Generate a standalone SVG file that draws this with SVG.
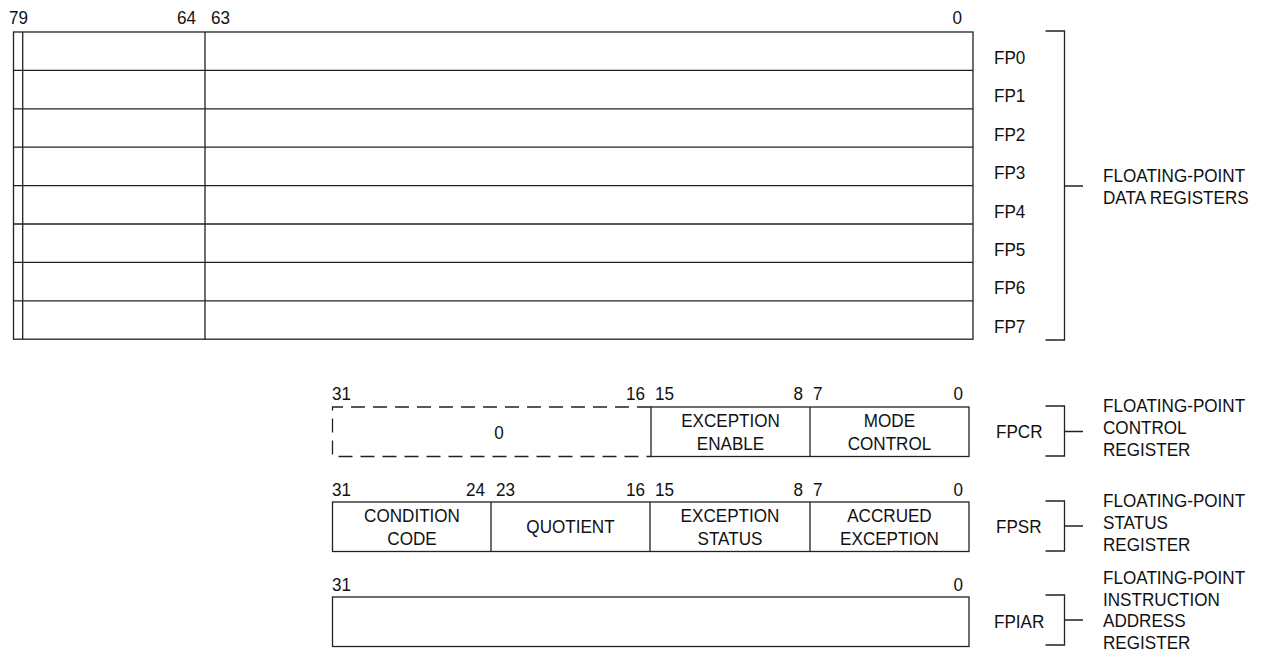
<svg xmlns="http://www.w3.org/2000/svg" width="1263" height="670" viewBox="0 0 1263 670">
<style>
text{font-family:"Liberation Sans",Arial,sans-serif;font-size:19px;fill:#111}
.m{text-anchor:middle}
.e{text-anchor:end}
.ln{fill:none;stroke:#222;stroke-width:1.3}
.dash{fill:none;stroke:#222;stroke-width:1.3;stroke-dasharray:14 8}
</style>
<rect width="1263" height="670" fill="#fff"/>
<g id="fp-data">
<rect class="ln" x="13.5" y="32" width="959.5" height="307.2"/>
<line class="ln" x1="22.7" y1="32" x2="22.7" y2="339.2"/>
<line class="ln" x1="205" y1="32" x2="205" y2="339.2"/>
<path class="ln" d="M13.5 70.4H973M13.5 108.8H973M13.5 147.2H973M13.5 185.6H973M13.5 224H973M13.5 262.4H973M13.5 300.8H973"/>
<g transform="scale(0.9,1)">
<text x="10" y="24">79</text>
<text class="e" x="217.8" y="24">64</text>
<text x="234.4" y="24">63</text>
<text class="e" x="1068.9" y="24">0</text>
<text x="1104.4" y="64">FP0</text>
<text x="1104.4" y="102.4">FP1</text>
<text x="1104.4" y="140.8">FP2</text>
<text x="1104.4" y="179.2">FP3</text>
<text x="1104.4" y="217.6">FP4</text>
<text x="1104.4" y="256">FP5</text>
<text x="1104.4" y="294.4">FP6</text>
<text x="1104.4" y="332.8">FP7</text>
<text x="1225.6" y="182">FLOATING-POINT</text>
<text x="1225.6" y="204">DATA REGISTERS</text>
</g>
</g>
<g id="fpcr">
<path class="dash" d="M651 407H332.5V456.5H651"/>
<rect class="ln" x="651" y="407" width="318" height="49.5"/>
<line class="ln" x1="810" y1="407" x2="810" y2="456.5"/>
<g transform="scale(0.9,1)">
<text x="368.9" y="400">31</text>
<text class="e" x="716.7" y="400">16</text>
<text x="727.8" y="400">15</text>
<text class="e" x="892.2" y="400">8</text>
<text x="903.3" y="400">7</text>
<text class="e" x="1070" y="400">0</text>
<text class="m" x="554.4" y="439">0</text>
<text class="m" x="811.7" y="427">EXCEPTION</text>
<text class="m" x="811.7" y="450">ENABLE</text>
<text class="m" x="988.3" y="427">MODE</text>
<text class="m" x="988.3" y="450">CONTROL</text>
<text x="1106.7" y="438">FPCR</text>
<text x="1225.6" y="412">FLOATING-POINT</text>
<text x="1225.6" y="434">CONTROL</text>
<text x="1225.6" y="456">REGISTER</text>
</g>
</g>
<g id="fpsr">
<rect class="ln" x="332.5" y="502" width="636.5" height="49.5"/>
<path class="ln" d="M491 502V551.5M650 502V551.5M810 502V551.5"/>
<g transform="scale(0.9,1)">
<text x="368.9" y="496">31</text>
<text class="e" x="538.9" y="496">24</text>
<text x="551.1" y="496">23</text>
<text class="e" x="716.7" y="496">16</text>
<text x="727.8" y="496">15</text>
<text class="e" x="892.2" y="496">8</text>
<text x="903.3" y="496">7</text>
<text class="e" x="1070" y="496">0</text>
<text class="m" x="457.8" y="522">CONDITION</text>
<text class="m" x="457.8" y="545">CODE</text>
<text class="m" x="633.9" y="533">QUOTIENT</text>
<text class="m" x="811.1" y="522">EXCEPTION</text>
<text class="m" x="811.1" y="545">STATUS</text>
<text class="m" x="988.3" y="522">ACCRUED</text>
<text class="m" x="988.3" y="545">EXCEPTION</text>
<text x="1106.7" y="533">FPSR</text>
<text x="1225.6" y="507">FLOATING-POINT</text>
<text x="1225.6" y="529">STATUS</text>
<text x="1225.6" y="551">REGISTER</text>
</g>
</g>
<g id="fpiar">
<rect class="ln" x="332.5" y="597" width="636.5" height="49.5"/>
<g transform="scale(0.9,1)">
<text x="368.9" y="591">31</text>
<text class="e" x="1070" y="591">0</text>
<text x="1104.4" y="628">FPIAR</text>
<text x="1225.6" y="584">FLOATING-POINT</text>
<text x="1225.6" y="606">INSTRUCTION</text>
<text x="1225.6" y="627">ADDRESS</text>
<text x="1225.6" y="649">REGISTER</text>
</g>
</g>
<g id="connectors">
<path class="ln" d="M1045.5 31H1064.5V340H1045.5M1064.5 186H1083"/>
<path class="ln" d="M1045.5 406H1064.5V456H1045.5M1064.5 431.5H1083"/>
<path class="ln" d="M1045.5 501H1064.5V551H1045.5M1064.5 526H1083"/>
<path class="ln" d="M1045.5 595H1064.5V645H1045.5M1064.5 620H1083"/>
</g>
</svg>
